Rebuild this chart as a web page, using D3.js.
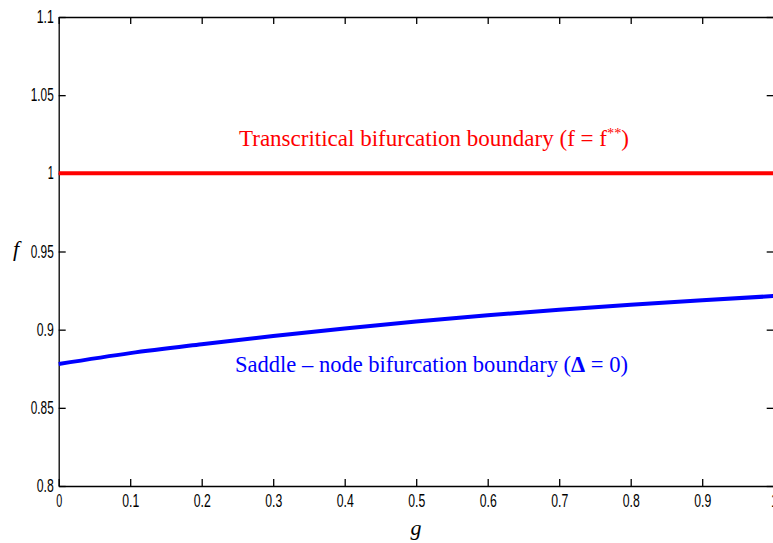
<!DOCTYPE html>
<html lang="en">
  <head>
    <meta charset="utf-8">
    <title>Bifurcation boundaries</title>
    <script src="https://d3js.org/d3.v7.min.js"></script>
    <style>
      body { margin: 0; background: #fff; }
      .domain, .tick line { stroke: #000; stroke-width: 1.3; }
    </style>
  </head>
  <body>
    <div id="chart"></div>
    <script>
      // data
      var gValues = [0, 0.1, 0.2, 0.3, 0.4, 0.5, 0.6, 0.7, 0.8, 0.9, 1.0];
      var saddleNode = [0.878, 0.885, 0.8907, 0.896, 0.9008, 0.9052, 0.9092, 0.9127, 0.9159, 0.9188, 0.9215];
      var transcritical = [1, 1, 1, 1, 1, 1, 1, 1, 1, 1, 1];
      var xTicks = [0, 0.1, 0.2, 0.3, 0.4, 0.5, 0.6, 0.7, 0.8, 0.9, 1];
      var yTicks = [0.8, 0.85, 0.9, 0.95, 1, 1.05, 1.1];

      var w = 773, h = 543;
      var margin = {top: 17, left: 58.7, bottom: 57};
      var innerWidth = 715;
      var innerHeight = h - margin.top - margin.bottom;

      var svg = d3.select("#chart").append("svg")
        .attr("width", w)
        .attr("height", h);

      var xScale = d3.scaleLinear().domain([0, 1]).range([margin.left, margin.left + innerWidth]);
      var yScale = d3.scaleLinear().domain([0.8, 1.1]).range([margin.top + innerHeight, margin.top]);

      var fmt = function(d) { return String(+d.toFixed(2)); };

      // narrow tick labels like the original: ~6px per digit, ~5px for the dot
      function squeeze(g) {
        g.selectAll(".tick text")
          .attr("font-family", "Liberation Sans, Arial, sans-serif")
          .attr("font-size", 17.5)
          .attr("fill", "#000")
          .each(function() {
            var s = d3.select(this).text();
            if (!s) return;
            var digits = s.replace(/[^0-9]/g, "").length;
            var dots = s.length - digits;
            d3.select(this)
              .attr("textLength", digits * 6 + dots * 5)
              .attr("lengthAdjust", "spacingAndGlyphs");
          });
      }

      // axes, ticks pointing inward
      svg.append("g")
        .attr("transform", `translate(0,${margin.top + innerHeight})`)
        .call(d3.axisBottom(xScale).tickValues(xTicks).tickFormat(fmt).tickSize(-7).tickSizeOuter(0).tickPadding(9))
        .call(squeeze);
      svg.append("g")
        .attr("transform", `translate(${margin.left},0)`)
        .call(d3.axisLeft(yScale).tickValues(yTicks).tickFormat(fmt).tickSize(-7).tickSizeOuter(0).tickPadding(5))
        .call(squeeze);
      svg.append("g")
        .attr("transform", `translate(0,${margin.top})`)
        .call(d3.axisTop(xScale).tickValues(xTicks).tickFormat("").tickSize(-7).tickSizeOuter(0));
      svg.append("g")
        .attr("transform", `translate(${margin.left + innerWidth},0)`)
        .call(d3.axisRight(yScale).tickValues(yTicks).tickFormat("").tickSize(-7).tickSizeOuter(0));

      var line = d3.line()
        .x(function(d, i) { return xScale(gValues[i]); })
        .y(function(d) { return yScale(d); })
        .curve(d3.curveMonotoneX);

      svg.append("path")
        .datum(transcritical)
        .attr("d", line)
        .attr("fill", "none")
        .attr("stroke", "#ff0000")
        .attr("stroke-width", 4);

      svg.append("path")
        .datum(saddleNode)
        .attr("d", line)
        .attr("fill", "none")
        .attr("stroke", "#0000ff")
        .attr("stroke-width", 4);

      // annotations
      var red = svg.append("text")
        .attr("x", 239)
        .attr("y", 146)
        .attr("textLength", 390)
        .attr("lengthAdjust", "spacingAndGlyphs")
        .attr("font-family", "Liberation Serif, DejaVu Serif, serif")
        .attr("font-size", 24)
        .attr("fill", "#ff0000");
      red.append("tspan").text("Transcritical bifurcation boundary (f = f");
      red.append("tspan").attr("dy", -8).attr("font-size", 15).text("**");
      red.append("tspan").attr("dy", 8).text(")");

      var blue = svg.append("text")
        .attr("x", 235)
        .attr("y", 372)
        .attr("textLength", 393)
        .attr("lengthAdjust", "spacingAndGlyphs")
        .attr("font-family", "Liberation Serif, DejaVu Serif, serif")
        .attr("font-size", 24)
        .attr("fill", "#0000ff");
      blue.append("tspan").text("Saddle \u2013 node bifurcation boundary (");
      blue.append("tspan").attr("font-weight", "bold").text("\u0394");
      blue.append("tspan").text(" = 0)");

      // axis labels
      svg.append("text")
        .attr("x", 416)
        .attr("y", 535)
        .attr("text-anchor", "middle")
        .attr("font-family", "Liberation Serif, DejaVu Serif, serif")
        .attr("font-style", "italic")
        .attr("font-size", 22)
        .text("g");

      svg.append("text")
        .attr("x", 16)
        .attr("y", 256)
        .attr("text-anchor", "middle")
        .attr("font-family", "Liberation Serif, DejaVu Serif, serif")
        .attr("font-style", "italic")
        .attr("font-size", 22)
        .text("f");
    </script>
  </body>
</html>
